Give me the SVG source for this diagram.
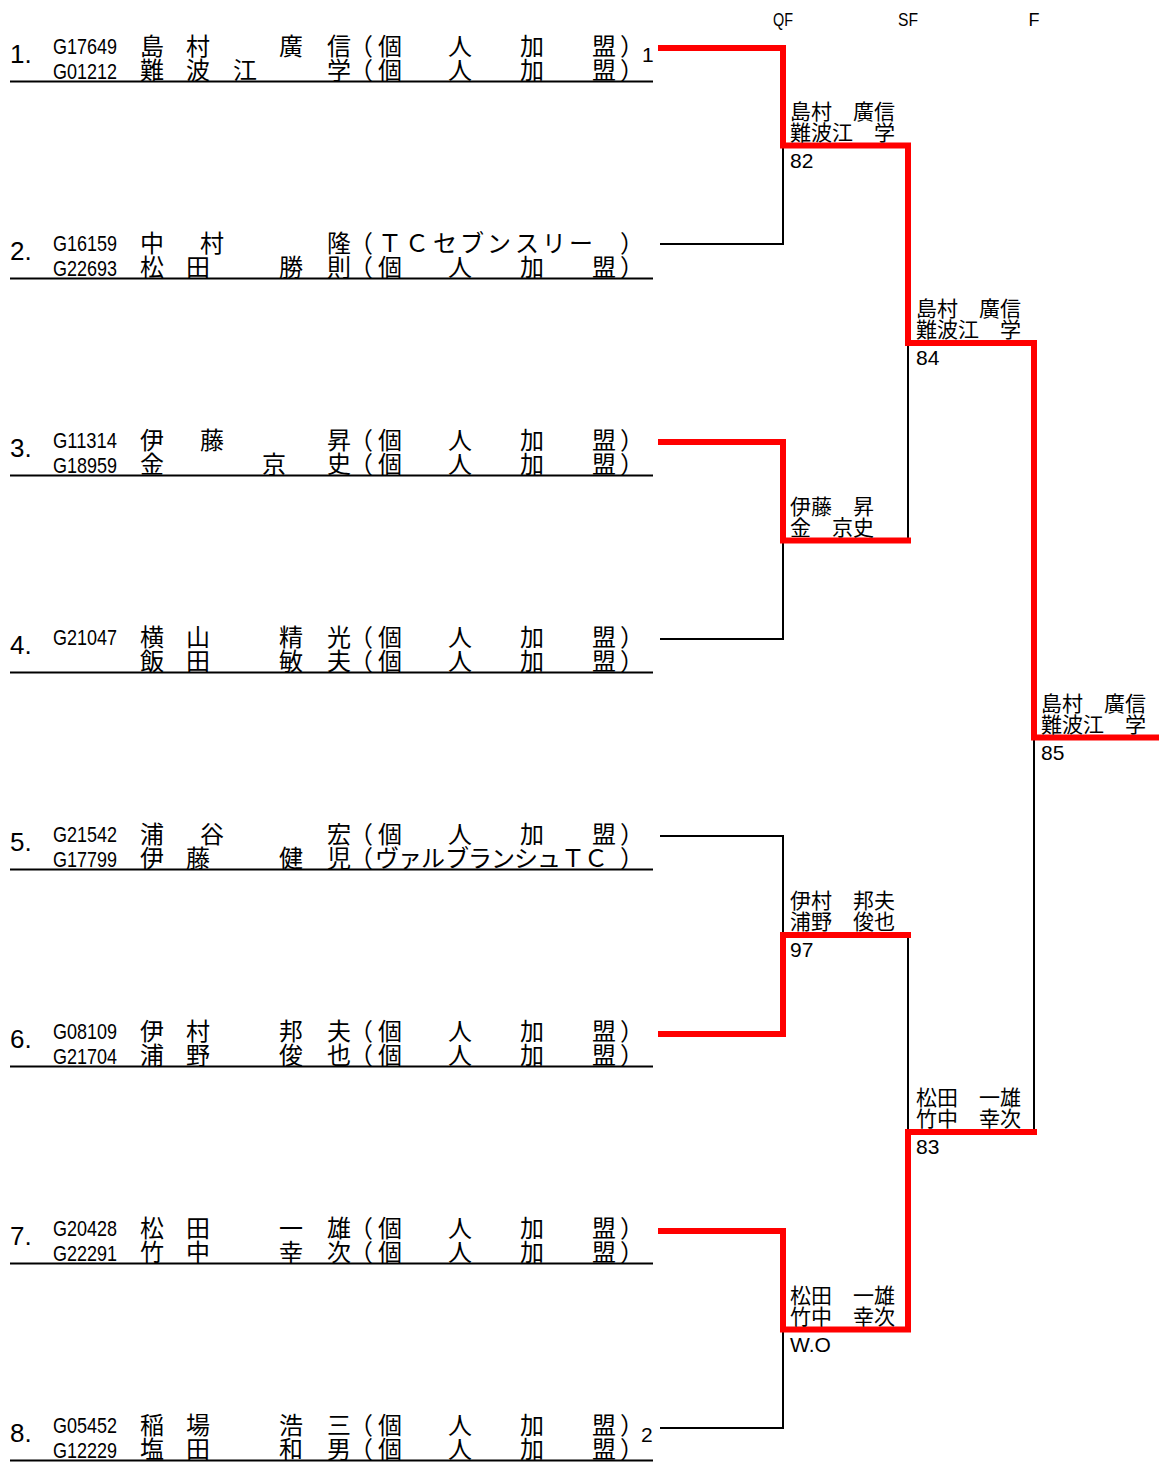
<svg xmlns="http://www.w3.org/2000/svg" width="1159" height="1463" viewBox="0 0 1159 1463">
<style>
.bg{fill:#ffffff}
.num{font-family:"Liberation Sans","Noto Sans",sans-serif;font-size:26px;fill:#000}
.id{font-family:"Liberation Sans","Noto Sans",sans-serif;font-size:22px;fill:#000}
.jp{font-family:"Noto Sans CJK JP","Noto Sans CJK SC",sans-serif;font-size:24px;fill:#000}
.seed{font-family:"Liberation Sans","Noto Sans",sans-serif;font-size:21px;fill:#000}
.ul{stroke:#000;stroke-width:2;fill:none}
.blk{stroke:#000;stroke-width:2;fill:none}
.red{stroke:#ff0000;stroke-width:6;fill:none;stroke-linejoin:miter;stroke-linecap:square}
.lbl{font-family:"Liberation Sans","Noto Sans CJK JP",sans-serif;font-size:21px;fill:#000}
.rnd{font-family:"Liberation Sans","Noto Sans",sans-serif;font-size:18px;fill:#000;text-anchor:middle}
</style>
<rect class="bg" x="0" y="0" width="1159" height="1463"/>

<g id="rounds">
<text class="rnd" x="783" y="26" textLength="20" lengthAdjust="spacingAndGlyphs">QF</text>
<text class="rnd" x="908" y="26" textLength="20" lengthAdjust="spacingAndGlyphs">SF</text>
<text class="rnd" x="1034" y="26">F</text>
</g>

<g id="entry1">
<text class="num" x="10" y="63">1.</text>
<text class="id" x="53" y="54" textLength="64" lengthAdjust="spacingAndGlyphs">G17649</text>
<text class="id" x="53" y="79" textLength="64" lengthAdjust="spacingAndGlyphs">G01212</text>
<text class="jp" x="140 186 279 327" y="55">島村廣信</text>
<text class="jp" x="140 186 233 327" y="79">難波江学</text>
<text class="jp" x="349 378 448 520 592 620" y="55">（個人加盟）</text>
<text class="jp" x="349 378 448 520 592 620" y="79">（個人加盟）</text>
<text class="seed" x="642" y="62">1</text>
<line class="ul" x1="10" y1="81.5" x2="653" y2="81.5"/>
</g>

<g id="entry2" transform="translate(0,197)">
<text class="num" x="10" y="63">2.</text>
<text class="id" x="53" y="54" textLength="64" lengthAdjust="spacingAndGlyphs">G16159</text>
<text class="id" x="53" y="79" textLength="64" lengthAdjust="spacingAndGlyphs">G22693</text>
<text class="jp" x="140 200 327" y="55">中村隆</text>
<text class="jp" x="140 186 279 327" y="79">松田勝則</text>
<text class="jp" x="349 378 405 433 460 487 515 542 569 620" y="55">（ＴＣセブンスリー）</text>
<text class="jp" x="349 378 448 520 592 620" y="79">（個人加盟）</text>
<line class="ul" x1="10" y1="81.5" x2="653" y2="81.5"/>
</g>

<g id="entry3" transform="translate(0,394)">
<text class="num" x="10" y="63">3.</text>
<text class="id" x="53" y="54" textLength="64" lengthAdjust="spacingAndGlyphs">G11314</text>
<text class="id" x="53" y="79" textLength="64" lengthAdjust="spacingAndGlyphs">G18959</text>
<text class="jp" x="140 200 327" y="55">伊藤昇</text>
<text class="jp" x="140 262 327" y="79">金京史</text>
<text class="jp" x="349 378 448 520 592 620" y="55">（個人加盟）</text>
<text class="jp" x="349 378 448 520 592 620" y="79">（個人加盟）</text>
<line class="ul" x1="10" y1="81.5" x2="653" y2="81.5"/>
</g>

<g id="entry4" transform="translate(0,591)">
<text class="num" x="10" y="63">4.</text>
<text class="id" x="53" y="54" textLength="64" lengthAdjust="spacingAndGlyphs">G21047</text>
<text class="jp" x="140 186 279 327" y="55">横山精光</text>
<text class="jp" x="140 186 279 327" y="79">飯田敏夫</text>
<text class="jp" x="349 378 448 520 592 620" y="55">（個人加盟）</text>
<text class="jp" x="349 378 448 520 592 620" y="79">（個人加盟）</text>
<line class="ul" x1="10" y1="81.5" x2="653" y2="81.5"/>
</g>

<g id="entry5" transform="translate(0,788)">
<text class="num" x="10" y="63">5.</text>
<text class="id" x="53" y="54" textLength="64" lengthAdjust="spacingAndGlyphs">G21542</text>
<text class="id" x="53" y="79" textLength="64" lengthAdjust="spacingAndGlyphs">G17799</text>
<text class="jp" x="140 200 327" y="55">浦谷宏</text>
<text class="jp" x="140 186 279 327" y="79">伊藤健児</text>
<text class="jp" x="349 378 448 520 592 620" y="55">（個人加盟）</text>
<text class="jp" x="349 375 398 421 445 468 491 514 537 561 584 620" y="79">（ヴァルブランシュＴＣ）</text>
<line class="ul" x1="10" y1="81.5" x2="653" y2="81.5"/>
</g>

<g id="entry6" transform="translate(0,985)">
<text class="num" x="10" y="63">6.</text>
<text class="id" x="53" y="54" textLength="64" lengthAdjust="spacingAndGlyphs">G08109</text>
<text class="id" x="53" y="79" textLength="64" lengthAdjust="spacingAndGlyphs">G21704</text>
<text class="jp" x="140 186 279 327" y="55">伊村邦夫</text>
<text class="jp" x="140 186 279 327" y="79">浦野俊也</text>
<text class="jp" x="349 378 448 520 592 620" y="55">（個人加盟）</text>
<text class="jp" x="349 378 448 520 592 620" y="79">（個人加盟）</text>
<line class="ul" x1="10" y1="81.5" x2="653" y2="81.5"/>
</g>

<g id="entry7" transform="translate(0,1182)">
<text class="num" x="10" y="63">7.</text>
<text class="id" x="53" y="54" textLength="64" lengthAdjust="spacingAndGlyphs">G20428</text>
<text class="id" x="53" y="79" textLength="64" lengthAdjust="spacingAndGlyphs">G22291</text>
<text class="jp" x="140 186 279 327" y="55">松田一雄</text>
<text class="jp" x="140 186 279 327" y="79">竹中幸次</text>
<text class="jp" x="349 378 448 520 592 620" y="55">（個人加盟）</text>
<text class="jp" x="349 378 448 520 592 620" y="79">（個人加盟）</text>
<line class="ul" x1="10" y1="81.5" x2="653" y2="81.5"/>
</g>

<g id="entry8" transform="translate(0,1379)">
<text class="num" x="10" y="63">8.</text>
<text class="id" x="53" y="54" textLength="64" lengthAdjust="spacingAndGlyphs">G05452</text>
<text class="id" x="53" y="79" textLength="64" lengthAdjust="spacingAndGlyphs">G12229</text>
<text class="jp" x="140 186 279 327" y="55">稲場浩三</text>
<text class="jp" x="140 186 279 327" y="79">塩田和男</text>
<text class="jp" x="349 378 448 520 592 620" y="55">（個人加盟）</text>
<text class="jp" x="349 378 448 520 592 620" y="79">（個人加盟）</text>
<text class="seed" x="641" y="63">2</text>
<line class="ul" x1="10" y1="81.5" x2="653" y2="81.5"/>
</g>

<g id="connectors">
<polyline class="blk" points="660,244 783,244 783,145.5"/>
<polyline class="blk" points="660,639 783,639 783,540.5"/>
<polyline class="blk" points="908,540.5 908,343"/>
<polyline class="blk" points="660,836 783,836 783,935"/>
<polyline class="blk" points="908,935 908,1132"/>
<polyline class="blk" points="1034,1132 1034,737.5"/>
<polyline class="blk" points="660,1428 783,1428 783,1329.5"/>
<polyline class="red" points="661,48 783,48 783,145.5 908,145.5 908,343 1034,343 1034,737.5 1157,737.5"/>
<polyline class="red" points="661,442 783,442 783,540.5 908,540.5"/>
<polyline class="red" points="661,1034 783,1034 783,935 908,935"/>
<polyline class="red" points="661,1231 783,1231 783,1329.5 908,1329.5 908,1132 1034,1132"/>
</g>

<g id="qf1">
<text class="lbl" x="790" y="118.5">島村　廣信</text>
<text class="lbl" x="790" y="139.5">難波江　学</text>
<text class="lbl" x="790" y="167.5">82</text>
</g>
<g id="qf2">
<text class="lbl" x="790" y="513.5">伊藤　昇</text>
<text class="lbl" x="790" y="534.5">金　京史</text>
</g>
<g id="qf3">
<text class="lbl" x="790" y="908">伊村　邦夫</text>
<text class="lbl" x="790" y="929">浦野　俊也</text>
<text class="lbl" x="790" y="957">97</text>
</g>
<g id="qf4">
<text class="lbl" x="790" y="1302.5">松田　一雄</text>
<text class="lbl" x="790" y="1323.5">竹中　幸次</text>
<text class="lbl" x="790" y="1351.5">W.O</text>
</g>
<g id="sf1">
<text class="lbl" x="916" y="316">島村　廣信</text>
<text class="lbl" x="916" y="337">難波江　学</text>
<text class="lbl" x="916" y="365">84</text>
</g>
<g id="sf2">
<text class="lbl" x="916" y="1105">松田　一雄</text>
<text class="lbl" x="916" y="1126">竹中　幸次</text>
<text class="lbl" x="916" y="1154">83</text>
</g>
<g id="final">
<text class="lbl" x="1041" y="710.5">島村　廣信</text>
<text class="lbl" x="1041" y="731.5">難波江　学</text>
<text class="lbl" x="1041" y="759.5">85</text>
</g>
</svg>
